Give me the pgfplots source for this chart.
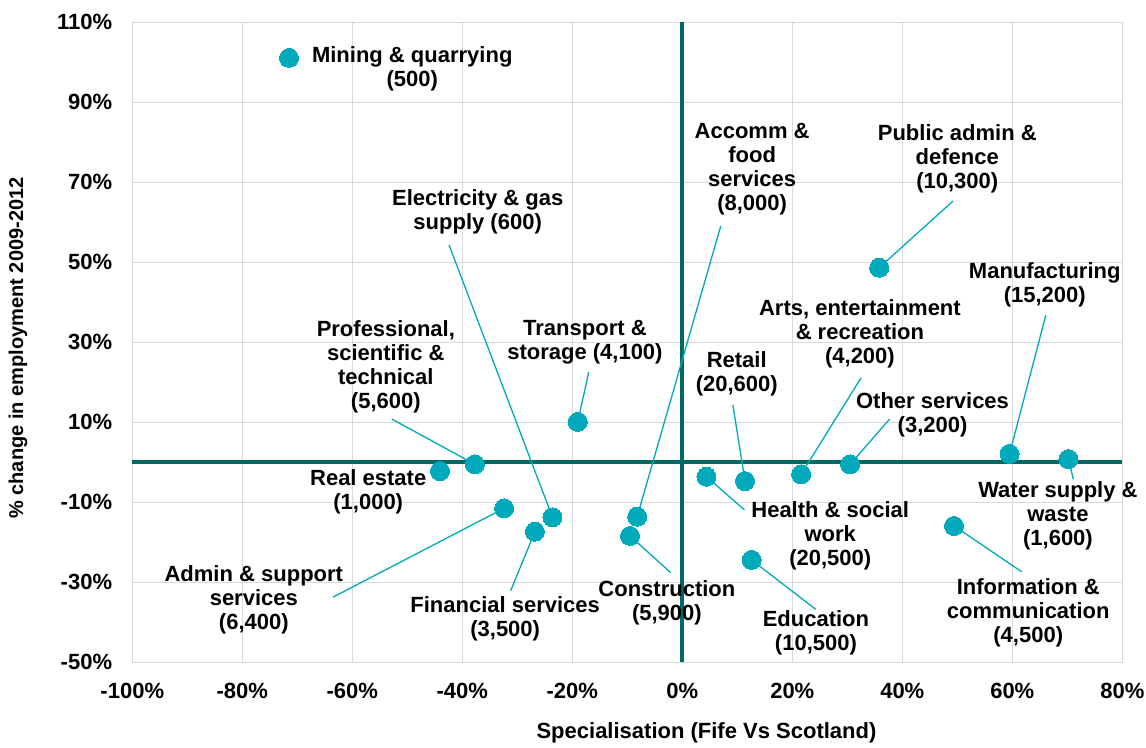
\documentclass[border=0pt]{standalone}
\usepackage{fontspec}
\setmainfont{Liberation Sans}
\usepackage{pgfplots}
\pgfplotsset{compat=1.18}

\definecolor{dot}{RGB}{0,170,187}
\definecolor{zeroline}{RGB}{0,104,101}
\definecolor{gridgray}{RGB}{217,217,217}

% leader from label end to point (drawn under the dots)
\newcommand{\lead}[4]{\draw[dot, line width=1.3pt] (axis cs:#1,#2) -- (axis cs:#3,#4);}
\newcommand{\lab}[3]{\node[align=center, inner sep=0pt, font=\fontsize{22}{24}\selectfont\bfseries] at (axis cs:#1,#2) {#3};}

\begin{document}
\begin{tikzpicture}
\begin{axis}[
    width=990pt, height=640pt, scale only axis,
    xmin=-100, xmax=80, ymin=-50, ymax=110,
    xtick={-100,-80,...,80},
    xticklabels={-100\%,-80\%,-60\%,-40\%,-20\%,0\%,20\%,40\%,60\%,80\%},
    ytick={-50,-30,...,110},
    yticklabels={-50\%,-30\%,-10\%,10\%,30\%,50\%,70\%,90\%,110\%},
    tick style={draw=none},
    grid=major,
    major grid style={draw=gridgray, line width=1.5pt},
    axis line style={draw=gridgray, line width=1.5pt},
    ticklabel style={font=\fontsize{22}{24}\selectfont\bfseries, inner sep=0pt},
    yticklabel style={xshift=-20pt},
    xticklabel style={yshift=-21pt},
    xlabel={Specialisation (Fife Vs Scotland)},
    ylabel={\% change in employment 2009-2012},
    xlabel style={font=\fontsize{22}{24}\selectfont\bfseries, at={(axis description cs:0.58,-0.1105)}, anchor=center},
    ylabel style={font=\fontsize{20}{22}\selectfont\bfseries, at={(axis description cs:-0.1155,0.491)}, anchor=center},
    clip=false,
]
% zero lines
\draw[zeroline, line width=4pt] (axis cs:-100,0) -- (axis cs:80,0);
\draw[zeroline, line width=4pt] (axis cs:0,-50) -- (axis cs:0,110);

% leaders
\lead{49.2}{65.3}{35.8}{48.65}
\lead{7.0}{59.1}{-8.2}{-13.6}
\lead{-42.4}{54.3}{-23.6}{-13.75}
\lead{66.1}{36.8}{59.5}{2.1}
\lead{32.5}{21.1}{21.6}{-3.0}
\lead{-17.0}{22.6}{-19.0}{10.1}
\lead{-52.8}{10.8}{-37.7}{-0.5}
\lead{9.2}{14.3}{11.4}{-4.7}
\lead{37.7}{10.8}{30.5}{-0.5}
\lead{71.1}{-4.25}{70.2}{0.8}
\lead{11.3}{-11.9}{4.4}{-3.6}
\lead{-63.5}{-33.7}{-32.4}{-11.5}
\lead{61.7}{-27.35}{49.4}{-15.9}
\lead{-2.1}{-27.6}{-9.5}{-18.4}
\lead{-31.2}{-32.1}{-26.8}{-17.35}
\lead{24.25}{-36.75}{12.6}{-24.4}

\addplot[only marks, mark=*, color=dot, mark size=9.5pt, mark options={fill=dot, draw=dot, line width=0pt}] coordinates {
(-71.5,101.1)   % Mining & quarrying
(35.8,48.65)    % Public admin & defence
(-19.0,10.1)    % Transport & storage
(-37.7,-0.5)    % Professional, scientific & technical
(-44.05,-2.2)   % Real estate
(-32.4,-11.5)   % Admin & support services
(-23.6,-13.75)  % Electricity & gas supply
(-26.8,-17.35)  % Financial services
(-8.2,-13.6)    % Accomm & food services
(-9.5,-18.4)    % Construction
(4.4,-3.6)      % Health & social work
(11.4,-4.7)     % Retail
(21.6,-3.0)     % Arts, entertainment & recreation
(30.5,-0.5)     % Other services
(59.5,2.1)      % Manufacturing
(70.2,0.8)      % Water supply & waste
(49.4,-15.9)    % Information & communication
(12.6,-24.4)    % Education
};

% labels
\lab{-49.1}{98.3}{Mining \& quarrying\\(500)}
\lab{12.7}{73.2}{Accomm \&\\food\\services\\(8,000)}
\lab{50.0}{75.95}{Public admin \&\\defence\\(10,300)}
\lab{-37.2}{62.7}{Electricity \& gas\\supply (600)}
\lab{65.9}{44.3}{Manufacturing\\(15,200)}
\lab{32.3}{32.1}{Arts, entertainment\\\& recreation\\(4,200)}
\lab{-17.7}{29.95}{Transport \&\\storage (4,100)}
\lab{-53.9}{23.8}{Professional,\\scientific \&\\technical\\(5,600)}
\lab{9.9}{22.1}{Retail\\(20,600)}
\lab{45.5}{11.8}{Other services\\(3,200)}
\lab{-57.1}{-7.5}{Real estate\\(1,000)}
\lab{68.3}{-13.3}{Water supply \&\\waste\\(1,600)}
\lab{26.9}{-18.3}{Health \& social\\work\\(20,500)}
\lab{-77.9}{-34.4}{Admin \& support\\services\\(6,400)}
\lab{62.9}{-37.55}{Information \&\\communication\\(4,500)}
\lab{-2.8}{-35.05}{Construction\\(5,900)}
\lab{-32.2}{-39.1}{Financial services\\(3,500)}
\lab{24.3}{-42.6}{Education\\(10,500)}

% page frame matching the reference canvas
\coordinate (pagebl) at (axis cs:-124.05,-71.175);
\coordinate (pagetr) at (axis cs:84.31,115.575);
\end{axis}
\pgfresetboundingbox
\path[use as bounding box] (pagebl) rectangle (pagetr);
\end{tikzpicture}
\end{document}
